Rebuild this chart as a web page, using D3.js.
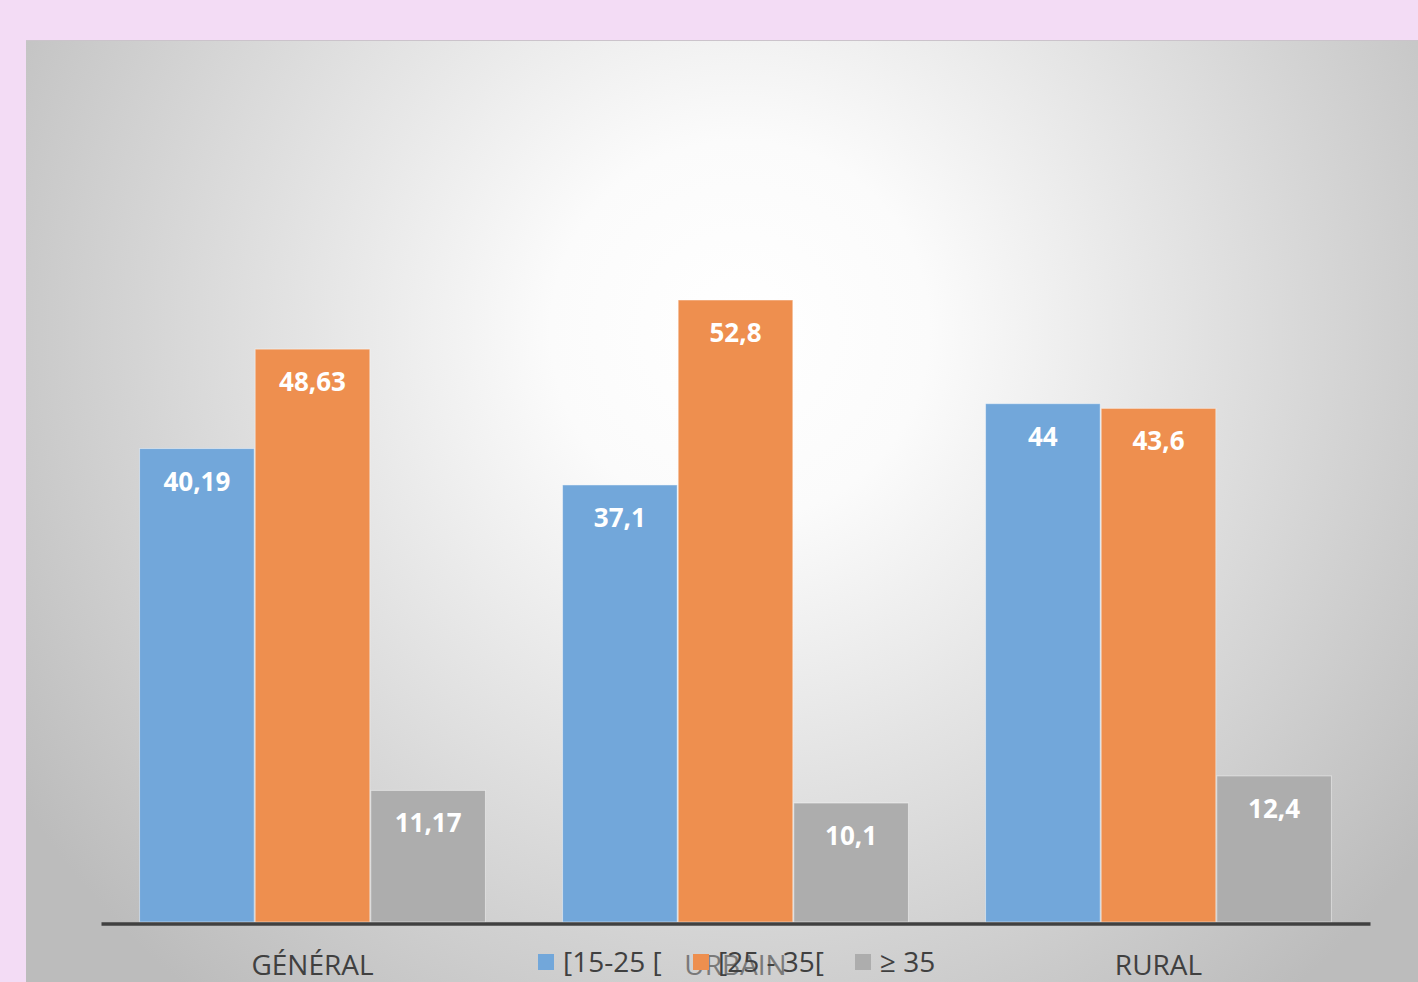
<!DOCTYPE html>
<html>
<head>
<meta charset="utf-8">
<title>Répartition par âge</title>
<script src="https://d3js.org/d3.v7.min.js"></script>
<style>
  body { margin: 0; background: #f3dcf5; }
  svg { display: block; }
</style>
</head>
<body>
<div class="chart"></div>
<script>
// data
var categories = ["GÉNÉRAL", "URBAIN", "RURAL"];
var seriesNames = ["[15-25 [", "[25 - 35[", "≥ 35"];
var seriesColors = ["#72a7da", "#ee8f4f", "#adadad"];
var values15_25 = [40.19, 37.1, 44];
var values25_35 = [48.63, 52.8, 43.6];
var values35 = [11.17, 10.1, 12.4];
var series = [values15_25, values25_35, values35];

var W = 1418, H = 982;
var svg = d3.select(".chart").append("svg")
    .attr("width", W)
    .attr("height", H);

// background panel with radial gradient
var defs = svg.append("defs");
var grad = defs.append("radialGradient")
    .attr("id", "bg")
    .attr("gradientUnits", "userSpaceOnUse")
    .attr("cx", 740).attr("cy", 330).attr("r", 860);
grad.append("stop").attr("offset", "0").attr("stop-color", "#ffffff");
grad.append("stop").attr("offset", "0.22").attr("stop-color", "#fbfbfb");
grad.append("stop").attr("offset", "1").attr("stop-color", "#bcbcbc");

svg.append("rect")
    .attr("x", 26).attr("y", 40)
    .attr("width", W - 26).attr("height", H - 40)
    .attr("fill", "url(#bg)");
svg.append("line")
    .attr("x1", 26).attr("x2", W)
    .attr("y1", 40.5).attr("y2", 40.5)
    .attr("stroke", "#cbc3cb").attr("stroke-width", 1);

var margin = {left: 101, right: 48, baseline: 922};

var x0 = d3.scaleBand()
    .domain(categories)
    .range([margin.left, W - margin.right])
    .paddingInner(0.18)
    .paddingOuter(0.09);

var x1 = d3.scaleBand()
    .domain(d3.range(seriesNames.length))
    .range([0, x0.bandwidth()]);

var y = d3.scaleLinear()
    .domain([0, 60])
    .range([margin.baseline, margin.baseline - 60 * 11.78]);

// bars
var groups = svg.selectAll(".grp")
    .data(series)
    .enter().append("g")
    .attr("class", "grp");

groups.each(function(vals, si) {
  var g = d3.select(this);
  g.selectAll("rect")
    .data(vals)
    .enter().append("rect")
      .attr("x", function(d, i) { return x0(categories[i]) + x1(si) + 0.5; })
      .attr("y", function(d) { return y(d); })
      .attr("width", x1.bandwidth() - 1)
      .attr("height", function(d) { return y(0) - y(d); })
      .attr("fill", seriesColors[si])
      .attr("stroke", "rgba(255,255,255,0.45)")
      .attr("stroke-width", 1);

  g.selectAll("text")
    .data(vals)
    .enter().append("text")
      .attr("x", function(d, i) { return x0(categories[i]) + x1(si) + x1.bandwidth() / 2; })
      .attr("y", function(d) { return y(d) + 42; })
      .attr("text-anchor", "middle")
      .attr("fill", "#ffffff")
      .style("font-family", "'Open Sans', sans-serif")
      .style("font-weight", "700")
      .style("font-size", "26px")
      .text(function(d) { return String(d).replace(".", ","); });
});

// x axis
var xAxis = svg.append("g")
    .attr("transform", "translate(0," + (margin.baseline + 1.5) + ")")
    .call(d3.axisBottom(x0).tickSize(0).tickPadding(0));
xAxis.select(".domain")
    .attr("stroke", "#404040")
    .attr("stroke-width", 3.5);
xAxis.selectAll("text")
    .attr("dy", null)
    .attr("y", 51)
    .attr("fill", "#404040")
    .style("font-family", "'Open Sans', sans-serif")
    .style("font-size", "28px")
    .attr("opacity", function(d) { return d === "URBAIN" ? 0.6 : 1; });

// legend
var legendX = [538, 693, 855];
var legend = svg.append("g");
var items = legend.selectAll("g")
    .data(seriesNames)
    .enter().append("g")
    .attr("transform", function(d, i) { return "translate(" + legendX[i] + ",954)"; });
items.append("rect")
    .attr("width", 16).attr("height", 16)
    .attr("fill", function(d, i) { return seriesColors[i]; });
items.append("text")
    .attr("x", 25).attr("y", 18)
    .attr("fill", "#404040")
    .style("font-family", "'Open Sans', sans-serif")
    .style("font-size", "28px")
    .text(function(d) { return d; });
</script>
</body>
</html>
